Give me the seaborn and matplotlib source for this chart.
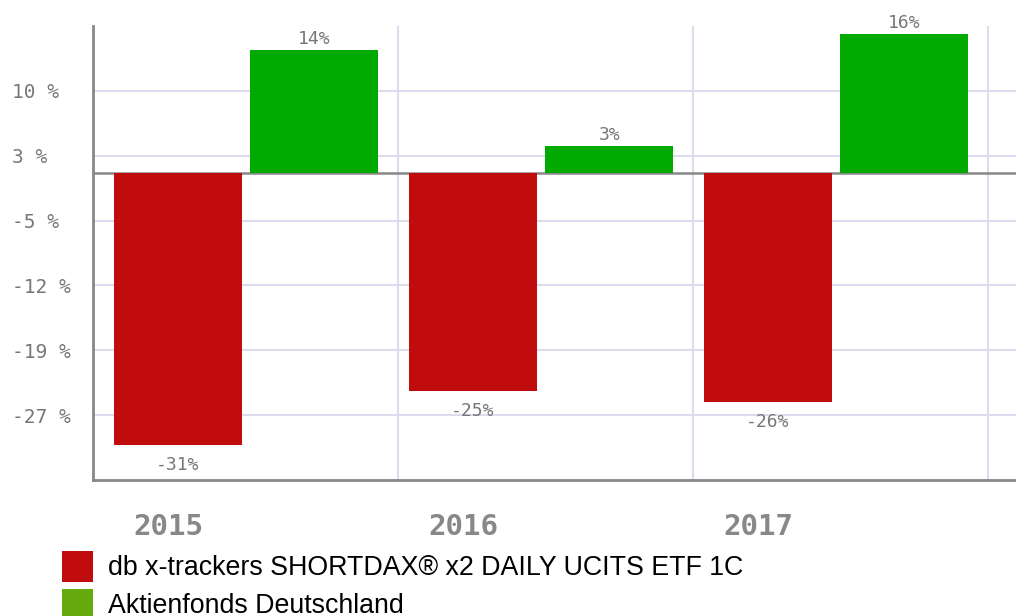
import pandas as pd
import numpy as np
import seaborn as sns
import matplotlib.pyplot as plt
from matplotlib.patches import Patch

# values
years = ['2015', '2016', '2017']
funds = ['db x-trackers SHORTDAX® x2 DAILY UCITS ETF 1C', 'Aktienfonds Deutschland']
shortdax = [-31.0, -24.8, -26.1]
aktienfonds = [14.1, 3.1, 15.9]
ytick_labels = ['-27 %', '-19 %', '-12 %', '-5 %', '3 %', '10 %']

df = pd.DataFrame({
    'Jahr': years * 2,
    'Fonds': [funds[0]] * 3 + [funds[1]] * 3,
    'Rendite': shortdax + aktienfonds,
})

bar_colors = {funds[0]: '#c00c0c', funds[1]: '#00aa00'}
legend_colors = ['#c00c0c', '#66aa0e']
grid_color = '#dcdcee'
axis_color = '#888888'
text_color = '#777777'

sns.set_style('white')
fig = plt.figure(figsize=(10.16, 6.16), dpi=100)
ax = fig.add_axes([0.0915, 0.2208, 0.9085, 0.737])

sns.barplot(data=df, x='Jahr', y='Rendite', hue='Fonds', hue_order=funds,
            palette=bar_colors, saturation=1, width=0.924, gap=0.058,
            linewidth=0, ax=ax)

ymin, ymax = -34.95, 16.82
ax.set_ylim(ymin, ymax)
ax.set_xlim(-0.519, 2.61)

# y ticks split the range in 7 equal steps
yticks = np.linspace(ymin, ymax, 8)[1:-1]
ax.set_yticks(yticks, ytick_labels)
ax.yaxis.grid(True, color=grid_color, lw=1.5)
ax.set_axisbelow(True)
for k in range(len(years)):
    ax.axvline(k + 0.515, color=grid_color, lw=1.5, zorder=0)
ax.axhline(0, color=axis_color, lw=1.8, zorder=0.5)

sns.despine(ax=ax, top=True, right=True)
for side in ['left', 'bottom']:
    ax.spines[side].set_color(axis_color)
    ax.spines[side].set_linewidth(2)

ax.tick_params(axis='y', direction='inout', length=10, width=1.5, color=axis_color,
               labelsize=14, labelcolor=text_color, pad=53)
for lab in ax.get_yticklabels():
    lab.set_fontfamily('DejaVu Sans Mono')
    lab.set_ha('left')

ax.set_xticks([k - 0.265 for k in range(len(years))], years)
ax.tick_params(axis='x', length=0, pad=24, labelsize=21, labelcolor='#888888')
for lab in ax.get_xticklabels():
    lab.set_fontfamily('DejaVu Sans Mono')
    lab.set_fontweight('bold')

ax.set_xlabel('')
ax.set_ylabel('')

# value labels on the bars
for cont, vals, pad in zip(ax.containers, [shortdax, aktienfonds], [8, 1.5]):
    ax.bar_label(cont, labels=[f'{v:.0f}%' for v in vals], padding=pad,
                 fontsize=13, color=text_color, family='DejaVu Sans Mono')

ax.get_legend().remove()
handles = [Patch(facecolor=c, edgecolor='none') for c in legend_colors]
leg = fig.legend(handles, funds, loc='upper left', bbox_to_anchor=(62 / 1016, 1 - 551 / 616),
                 frameon=False, borderpad=0, borderaxespad=0, handlelength=1.157,
                 handleheight=1.403, handletextpad=0.56, labelspacing=0.26,
                 prop={'family': 'Liberation Sans', 'size': 19.3})
for t in leg.get_texts():
    t.set_color('black')

plt.savefig('out.png', dpi=100)
